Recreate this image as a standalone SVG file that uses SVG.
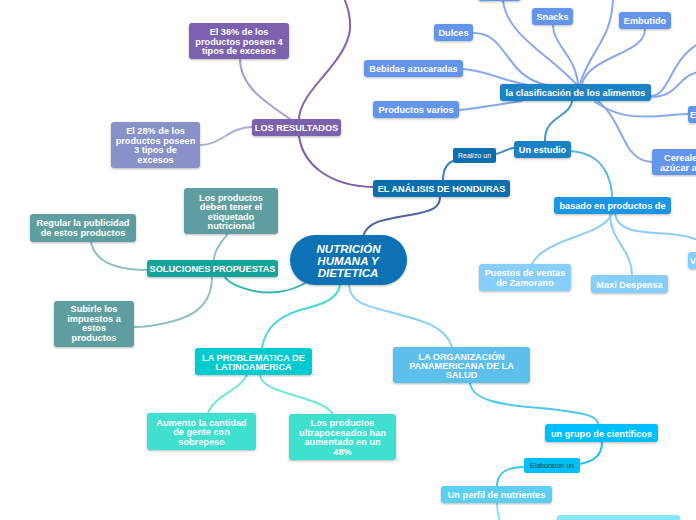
<svg xmlns="http://www.w3.org/2000/svg" width="696" height="520" viewBox="0 0 696 520">
<defs>
<filter id="sh" x="-10%" y="-20%" width="120%" height="150%">
<feDropShadow dx="0" dy="1" stdDeviation="0.8" flood-color="#000" flood-opacity="0.28"/>
</filter>
</defs>
<style>
.n{filter:url(#sh)}
.t{font-family:"Liberation Sans",Arial,sans-serif;font-weight:bold;font-size:9.2px;fill:#fff;text-anchor:middle}
.m{font-size:11.5px;font-style:italic}
.l{text-anchor:start}
.s{font-family:"Liberation Sans",Arial,sans-serif;font-size:7px;fill:#fff;text-anchor:middle}
.c{fill:none;stroke-width:2;stroke-linecap:round}
</style>
<rect width="696" height="520" fill="#fff"/>
<g id="connectors">
<path class="c" stroke="#4c64a6" d="M363 236 C368 222 380 220 410 215 C432 211 440 208 440 197"/>
<path class="c" stroke="#8060ab" d="M373 187 C330 186 303 165 299 136"/>
<path class="c" stroke="#8a62b0" d="M299 119 C300 90 345 65 350 30 C351 15 347 5 344 -2"/>
<path class="c" stroke="#a99bd3" d="M290 119 C262 100 240 85 240 59"/>
<path class="c" stroke="#a9b0de" d="M252 127 C230 127 220 145 201 145"/>
<path class="c" stroke="#2e86c0" d="M443 180 C443 168 448 162 456 160"/>
<path class="c" stroke="#3d8ec9" d="M496 154 C505 152 508 148 514 148"/>
<path class="c" stroke="#4096c6" d="M545 141 C545 128 550 123 560 116 C569 110 572 106 572 101"/>
<path class="c" stroke="#86a9ef" d="M473 33 C495 33 500 48 515 66 C525 78 535 83 548 85"/>
<path class="c" stroke="#86a9ef" d="M463 69 C485 70 500 80 528 85"/>
<path class="c" stroke="#86a9ef" d="M459 110 C480 108 500 104 522 101"/>
<path class="c" stroke="#86a9ef" d="M553 25 C553 45 575 55 578 84"/>
<path class="c" stroke="#86a9ef" d="M503 0 C506 35 550 55 576 84"/>
<path class="c" stroke="#86a9ef" d="M613 -2 C612 40 590 50 580 84"/>
<path class="c" stroke="#86a9ef" d="M645 29 C645 55 590 55 582 84"/>
<path class="c" stroke="#86a9ef" d="M651 96 C670 95 670 60 698 44"/>
<path class="c" stroke="#86a9ef" d="M651 97 C680 96 675 78 698 72"/>
<path class="c" stroke="#86a9ef" d="M595 102 C615 115 630 118 660 116 C675 115 680 114 688 114"/>
<path class="c" stroke="#86a9ef" d="M598 101 C615 115 620 135 630 150 C638 160 645 162 652 162"/>
<path class="c" stroke="#5ab8e6" d="M571 151 C590 153 600 160 607 174 C611 184 612 192 612 197"/>
<path class="c" stroke="#8dcff5" d="M612 214 C605 230 575 235 555 245 C540 252 535 258 532 264"/>
<path class="c" stroke="#8dcff5" d="M610 214 C610 240 632 250 632 275"/>
<path class="c" stroke="#8dcff5" d="M615 214 C618 232 640 232 670 234 C685 235 692 238 698 240"/>
<path class="c" stroke="#37b8b0" stroke-width="3" d="M305 283 C290 292 270 295 250 290 C235 286 228 282 225 277"/>
<path class="c" stroke="#8fc0c2" d="M214 260 C214 250 220 245 222 241 C225 237 227 236 227 234"/>
<path class="c" stroke="#8fc0c2" d="M147 270 C115 270 95 262 91 242"/>
<path class="c" stroke="#8fc0c2" d="M212 277 C212 300 200 315 170 322 C150 327 140 327 134 327"/>
<path class="c" stroke="#4ed8d8" stroke-width="3" d="M340 285 C338 300 320 305 300 310 C275 318 265 330 262 348"/>
<path class="c" stroke="#6ee6dc" d="M247 375 C240 390 215 395 208 413"/>
<path class="c" stroke="#6ee6dc" d="M260 375 C262 395 320 395 333 414"/>
<path class="c" stroke="#85d2f3" stroke-width="3" d="M349 285 C350 300 360 305 390 312 C420 320 445 325 452 347"/>
<path class="c" stroke="#4cc9f4" d="M470 383 C472 400 500 405 540 408 C580 412 598 415 598 424"/>
<path class="c" stroke="#1ec1f5" d="M602 442 C602 458 590 462 580 464"/>
<path class="c" stroke="#39c4f2" d="M524 467 C505 467 497 475 497 486"/>
<path class="c" stroke="#8ae0f7" d="M497 503 C497 512 499 516 500 522"/>
</g>
<g id="center"><rect class="n" x="290" y="235" width="117" height="50" rx="25" fill="#0872b4"/>
<text class="t m" x="348.5" y="253">NUTRICIÓN</text>
<text class="t m" x="348" y="265">HUMANA Y</text>
<text class="t m" x="348" y="277">DIETETICA</text></g>
<g id="analisis"><rect class="n" x="373" y="180" width="137" height="17" rx="3" fill="#0e6fae"/><text class="t" x="441.5" y="192">EL ANÁLISIS DE HONDURAS</text></g>
<g id="realizo"><rect x="453" y="148" width="43" height="15" rx="2" fill="#0e6fae"/><text class="s" x="474.5" y="158">Realizo un</text></g>
<g id="estudio"><rect class="n" x="514" y="141" width="57" height="17" rx="3" fill="#1e82c4"/><text class="t" x="542.5" y="153">Un estudio</text></g>
<g id="clasificacion"><rect class="n" x="500" y="84" width="151" height="17" rx="3" fill="#1e82c4"/><text class="t" x="575.5" y="96">la clasificación de los alimentos</text></g>
<g id="hidden-top"><rect class="n" x="478" y="-10" width="43" height="11" rx="3" fill="#6495ed"/></g>
<g id="dulces"><rect class="n" x="434" y="24" width="39" height="17" rx="3" fill="#6495ed"/><text class="t" x="453.5" y="36">Dulces</text></g>
<g id="bebidas"><rect class="n" x="364" y="60" width="99" height="17" rx="3" fill="#6495ed"/><text class="t" x="413.5" y="72">Bebidas azucaradas</text></g>
<g id="varios"><rect class="n" x="373" y="101" width="86" height="17" rx="3" fill="#6495ed"/><text class="t" x="416" y="113">Productos varios</text></g>
<g id="snacks"><rect class="n" x="532" y="8" width="41" height="17" rx="3" fill="#6495ed"/><text class="t" x="552.5" y="20">Snacks</text></g>
<g id="embutido"><rect class="n" x="619" y="12" width="52" height="17" rx="3" fill="#6495ed"/><text class="t" x="645" y="24">Embutido</text></g>
<g id="e-node"><rect class="n" x="688" y="106" width="20" height="17" rx="3" fill="#6495ed"/><text class="t l" x="690" y="118">E</text></g>
<g id="cereales"><rect class="n" x="652" y="149" width="60" height="26" rx="3" fill="#6495ed"/><text class="t l" x="664" y="161">Cereale</text><text class="t l" x="660" y="170.5">azúcar a</text></g>
<g id="basado"><rect class="n" x="554" y="197" width="117" height="17" rx="3" fill="#1a96e3"/><text class="t" x="612.5" y="209">basado en productos de</text></g>
<g id="puestos"><rect class="n" x="479" y="264" width="92" height="27" rx="3" fill="#87cefa"/><text class="t" x="525" y="276">Puestos de ventas</text><text class="t" x="525" y="285.5">de Zamorano</text></g>
<g id="maxi"><rect class="n" x="591" y="275" width="77" height="18" rx="3" fill="#87cefa"/><text class="t" x="629.5" y="287.5">Maxi Despensa</text></g>
<g id="v-node"><rect class="n" x="688" y="252" width="20" height="17" rx="3" fill="#87cefa"/><text class="t l" x="690" y="264">V</text></g>
<g id="resultados"><rect class="n" x="252" y="119" width="89" height="17" rx="3" fill="#7b62ae"/><text class="t" x="296.5" y="131">LOS RESULTADOS</text></g>
<g id="r36"><rect class="n" x="189" y="23" width="100" height="36" rx="3" fill="#7b62ae"/><text class="t" x="239" y="35">El 36% de los</text><text class="t" x="239" y="44.5">productos poseen 4</text><text class="t" x="239" y="54">tipos de excesos</text></g>
<g id="r28"><rect class="n" x="111" y="122" width="89" height="46" rx="3" fill="#8891c8"/><text class="t" x="155.5" y="134">El 28% de los</text><text class="t" x="155.5" y="143.5">productos poseen</text><text class="t" x="155.5" y="153">3 tipos de</text><text class="t" x="155.5" y="162.5">excesos</text></g>
<g id="soluciones"><rect class="n" x="147" y="260" width="131" height="17" rx="3" fill="#12a59d"/><text class="t" x="212.5" y="272">SOLUCIONES PROPUESTAS</text></g>
<g id="etiquetado"><rect class="n" x="184" y="188" width="94" height="46" rx="3" fill="#5f9ea0"/><text class="t" x="231" y="201">Los productos</text><text class="t" x="231" y="210">deben tener el</text><text class="t" x="231" y="219.5">etiquetado</text><text class="t" x="231" y="228.5">nutricional</text></g>
<g id="regular"><rect class="n" x="30" y="214" width="106" height="28" rx="3" fill="#5f9ea0"/><text class="t" x="83" y="226">Regular la publicidad</text><text class="t" x="83" y="235.5">de estos productos</text></g>
<g id="impuestos"><rect class="n" x="54" y="301" width="80" height="46" rx="3" fill="#5f9ea0"/><text class="t" x="94" y="311.5">Subirle los</text><text class="t" x="94" y="321.5">impuestos a</text><text class="t" x="94" y="331">estos</text><text class="t" x="94" y="340.5">productos</text></g>
<g id="problematica"><rect class="n" x="195" y="348" width="117" height="27" rx="3" fill="#06cccf"/><text class="t" x="253.5" y="361">LA PROBLEMATICA DE</text><text class="t" x="253.5" y="370">LATINOAMERICA</text></g>
<g id="aumento"><rect class="n" x="147" y="413" width="109" height="37" rx="3" fill="#40e0d0"/><text class="t" x="201.5" y="425.5">Aumento la cantidad</text><text class="t" x="201.5" y="435">de gente con</text><text class="t" x="201.5" y="444.5">sobrepeso</text></g>
<g id="ultra"><rect class="n" x="289" y="414" width="107" height="46" rx="3" fill="#40e0d0"/><text class="t" x="342.5" y="426">Los productos</text><text class="t" x="342.5" y="435.5">ultrapocesados han</text><text class="t" x="342.5" y="445">aumentado en un</text><text class="t" x="342.5" y="455">48%</text></g>
<g id="ops"><rect class="n" x="393" y="347" width="137" height="36" rx="3" fill="#5bbfec"/><text class="t" x="461.5" y="359.5">LA ORGANIZACIÓN</text><text class="t" x="461.5" y="368.5">PANAMERICANA DE LA</text><text class="t" x="461.5" y="378">SALUD</text></g>
<g id="grupo"><rect class="n" x="545" y="424" width="113" height="18" rx="3" fill="#00bfff"/><text class="t" x="601.5" y="436.5">un grupo de científicos</text></g>
<g id="elaboraron"><rect x="524" y="458" width="56" height="15" rx="2" fill="#00bfff"/><text class="s" style="fill:#1d3c5a" x="552" y="468">Elaboraron un</text></g>
<g id="perfil"><rect class="n" x="441" y="486" width="111" height="17" rx="3" fill="#5bcff3"/><text class="t" x="496.5" y="498">Un perfil de nutrientes</text></g>
<g id="bottom-node"><rect class="n" x="557" y="515" width="123" height="12" rx="3" fill="#87e8fa"/></g>
</svg>
